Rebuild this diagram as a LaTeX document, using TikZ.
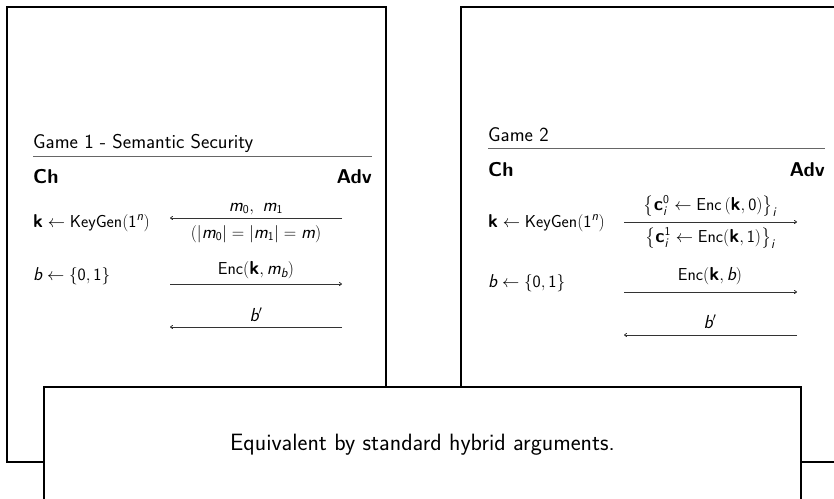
\documentclass[tikz,border=0pt]{standalone}
\usepackage{amsmath}
\usetikzlibrary{arrows.meta}
\DeclareMathAlphabet{\mathsfsl}{\encodingdefault}{\sfdefault}{m}{sl}
\DeclareMathAlphabet{\mathsfbf}{\encodingdefault}{\sfdefault}{bx}{n}
\newcommand\sv[1]{\mathsfsl{#1}}
\newcommand\bv[1]{\mathsfbf{#1}}
\newcommand\sd[1]{\mathsf{#1}}
\newcommand\gamefont{\fontsize{20}{24}\selectfont\sffamily}
\newcommand\colfont{\fontsize{18.6}{22}\selectfont\sffamily}
\newcommand\lblfont{\fontsize{18.8}{23}\selectfont\sffamily}
\newcommand\bigfont{\fontsize{23.6}{28}\selectfont\sffamily}
\tikzset{
  panel/.style={draw=black, line width=2pt},
  gtext/.style={font=\gamefont, inner sep=0pt, anchor=base west},
  ctext/.style={font=\colfont, inner sep=0pt, anchor=base west},
  gbold/.style={font=\gamefont\bfseries, inner sep=0pt, anchor=base west},
  lbl/.style={font=\lblfont, inner sep=0pt, anchor=base},
  hrule/.style={draw=black!60, line width=1pt},
  msg/.style={draw=black!80, line width=0.8pt, -{To[length=3pt,width=4pt]}},
}
\begin{document}
\begin{tikzpicture}[x=1pt,y=-1pt]
\useasboundingbox (0,0) rectangle (834,498);
\clip (0,0) rectangle (834,498);
% panels
\draw[panel] (7,7) rectangle (386,462);
\draw[panel] (461,7) rectangle (850,462);

% ---- Game 1 ----
\node[gtext] (h1) at (33,148) {Game 1 - Semantic Security};
\coordinate (r1a) at (33,156); \coordinate (r1b) at (372,156);
\draw[hrule] (r1a) -- (r1b);
\node[gbold] (ch1) at (33,183) {Ch};
\node[gbold,anchor=base east] (adv1) at (372,183) {Adv};

\node[ctext] (k1) at (33,227) {$\bv{k}\leftarrow\mathsf{KeyGen}(\sd{1}^{\sv{n}})$};
\coordinate (a1r) at (342,218); \coordinate (a1l) at (170,218);
\draw[msg] (a1r) -- (a1l);
\node[lbl] (l1u) at (256,211) {$\sv{m}_{\sd{0}},\ \sv{m}_{\sd{1}}$};
\node[lbl] (l1d) at (256,238) {$(|\sv{m}_{\sd{0}}|=|\sv{m}_{\sd{1}}|=\sv{m})$};

\node[ctext] (b1) at (33,280) {$\sv{b}\leftarrow\{\sd{0},\sd{1}\}$};
\coordinate (a2l) at (170,284); \coordinate (a2r) at (342,284);
\draw[msg] (a2l) -- (a2r);
\node[lbl] (l2) at (256,274) {$\mathsf{Enc}(\bv{k},\sv{m}_{\sv{b}})$};

\coordinate (a3r) at (342,327); \coordinate (a3l) at (170,327);
\draw[msg] (a3r) -- (a3l);
\node[lbl] (l3) at (256,321) {$\sv{b}'$};

% ---- Game 2 ----
\node[gtext] (h2) at (488,141) {Game 2};
\coordinate (r2a) at (488,148); \coordinate (r2b) at (825,148);
\draw[hrule] (r2a) -- (r2b);
\node[gbold] (ch2) at (488,176) {Ch};
\node[gbold,anchor=base east] (adv2) at (825,176) {Adv};

\node[ctext] (k2) at (488,227) {$\bv{k}\leftarrow\mathsf{KeyGen}(\sd{1}^{\sv{n}})$};
\coordinate (c1l) at (624,222); \coordinate (c1r) at (797,222);
\draw[msg] (c1l) -- (c1r);
\node[lbl] (m1u) at (710,210) {$\bigl\{\bv{c}_{\sv{i}}^{\sd{0}}\leftarrow\mathsf{Enc}\,(\bv{k},\sd{0})\bigr\}_{\sv{i}}$};
\node[lbl] (m1d) at (710,242) {$\bigl\{\bv{c}_{\sv{i}}^{\sd{1}}\leftarrow\mathsf{Enc}(\bv{k},\sd{1})\bigr\}_{\sv{i}}$};

\node[ctext] (b2) at (488,287) {$\sv{b}\leftarrow\{\sd{0},\sd{1}\}$};
\coordinate (c2l) at (624,292); \coordinate (c2r) at (797,292);
\draw[msg] (c2l) -- (c2r);
\node[lbl] (m2) at (710,280) {$\mathsf{Enc}(\bv{k},\sv{b})$};

\coordinate (c3r) at (797,335); \coordinate (c3l) at (624,335);
\draw[msg] (c3r) -- (c3l);
\node[lbl] (m3) at (710,328) {$\sv{b}'$};

% ---- bottom box ----
\draw[panel, fill=white] (44,387) rectangle (801,520);
\node[font=\bigfont, inner sep=0pt, anchor=base] (eq) at (422.5,450) {Equivalent by standard hybrid arguments.};
\end{tikzpicture}
\end{document}
